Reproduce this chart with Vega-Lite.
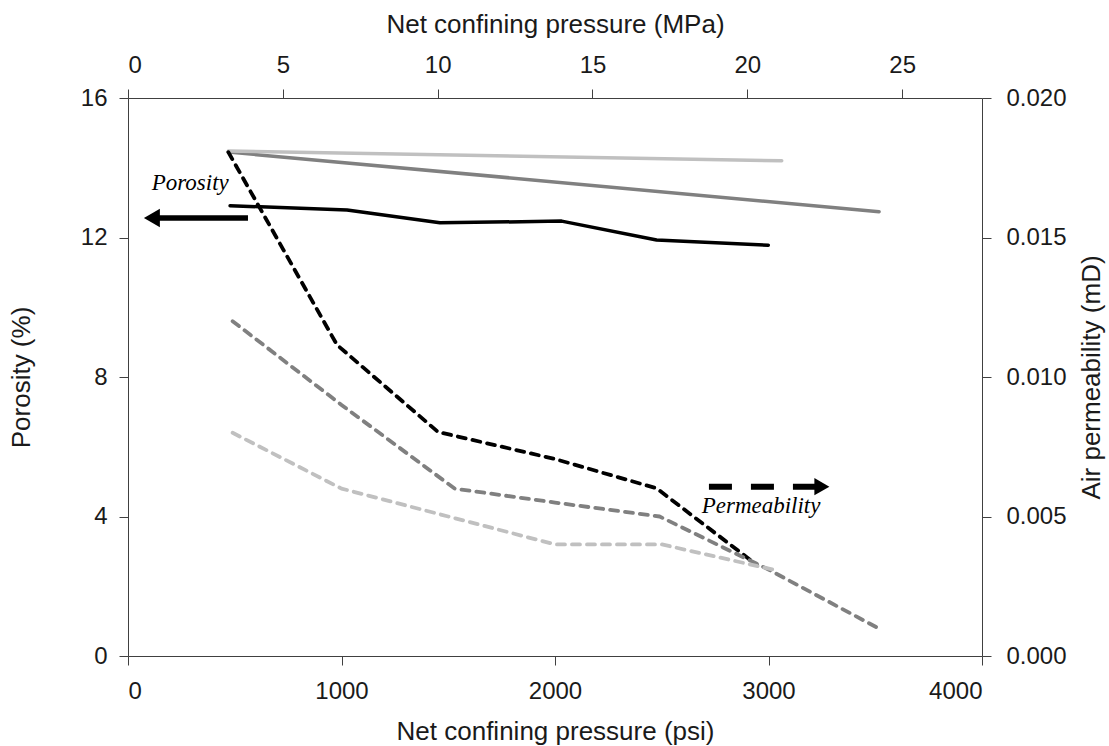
{
  "$schema": "https://vega.github.io/schema/vega-lite/v6.json",
  "width": 854,
  "height": 558,
  "autosize": {"type": "none"},
  "padding": {"left": 128, "top": 98, "right": 127, "bottom": 90},
  "background": "white",
  "config": {
    "view": {"stroke": null},
    "axis": {
      "grid": false,
      "domainColor": "#404040",
      "tickColor": "#404040",
      "tickSize": 9,
      "labelFont": "Liberation Sans",
      "labelFontSize": 24,
      "labelColor": "#1a1a1a",
      "titleFont": "Liberation Sans",
      "titleFontSize": 26,
      "titleFontWeight": "normal",
      "titleColor": "#1a1a1a"
    }
  },
  "datasets": {
    "porosity": [
      {"series": "A", "psi": 478, "value": 12.91},
      {"series": "A", "psi": 1026, "value": 12.79},
      {"series": "A", "psi": 1461, "value": 12.42},
      {"series": "A", "psi": 2031, "value": 12.47},
      {"series": "A", "psi": 2476, "value": 11.93},
      {"series": "A", "psi": 2999, "value": 11.78},
      {"series": "B", "psi": 470, "value": 14.45},
      {"series": "B", "psi": 3518, "value": 12.74},
      {"series": "C", "psi": 470, "value": 14.48},
      {"series": "C", "psi": 3062, "value": 14.2}
    ],
    "permeability": [
      {"series": "A", "psi": 470, "value": 0.01806},
      {"series": "A", "psi": 979, "value": 0.01115},
      {"series": "A", "psi": 1452, "value": 0.00803},
      {"series": "A", "psi": 2000, "value": 0.00706},
      {"series": "A", "psi": 2476, "value": 0.00601},
      {"series": "A", "psi": 2946, "value": 0.00326},
      {"series": "B", "psi": 490, "value": 0.012},
      {"series": "B", "psi": 1000, "value": 0.009},
      {"series": "B", "psi": 1530, "value": 0.006},
      {"series": "B", "psi": 2000, "value": 0.0055},
      {"series": "B", "psi": 2490, "value": 0.005},
      {"series": "B", "psi": 3000, "value": 0.0031},
      {"series": "B", "psi": 3513, "value": 0.001},
      {"series": "C", "psi": 490, "value": 0.008},
      {"series": "C", "psi": 1000, "value": 0.006},
      {"series": "C", "psi": 1500, "value": 0.005},
      {"series": "C", "psi": 2000, "value": 0.004},
      {"series": "C", "psi": 2500, "value": 0.004},
      {"series": "C", "psi": 3020, "value": 0.0031}
    ],
    "porArrow": [
      {"psi": 145, "value": 12.56},
      {"psi": 562, "value": 12.56}
    ],
    "porHead": [{"psi": 112, "value": 12.56}],
    "porText": [{"psi": 111, "value": 13.36, "label": "Porosity"}],
    "permArrow": [
      {"psi": 2721, "value": 0.00607},
      {"psi": 3218, "value": 0.00607}
    ],
    "permHead": [{"psi": 3250, "value": 0.00607}],
    "permText": [{"psi": 2687, "value": 0.00511, "label": "Permeability"}],
    "mpaAxis": [{"mpa": 0}, {"mpa": 27.579}]
  },
  "layer": [
    {
      "encoding": {
        "x": {
          "field": "psi", "type": "quantitative",
          "scale": {"domain": [0, 4000], "nice": false, "zero": false},
          "axis": {"orient": "bottom", "values": [0, 1000, 2000, 3000, 4000], "format": "d", "title": "Net confining pressure (psi)", "labelPadding": 14, "titlePadding": 15}
        },
        "y": {
          "field": "value", "type": "quantitative",
          "scale": {"domain": [0, 16], "nice": false, "zero": false},
          "axis": {"orient": "left", "values": [0, 4, 8, 12, 16], "title": "Porosity (%)", "labelPadding": 12, "titlePadding": 46}
        }
      },
      "layer": [
        {
          "data": {"name": "porosity"},
          "mark": {"type": "line", "strokeWidth": 3.5, "strokeCap": "round", "strokeJoin": "round"},
          "encoding": {
            "detail": {"field": "series"},
            "color": {"field": "series", "type": "nominal", "scale": {"domain": ["A", "B", "C"], "range": ["#000000", "#808080", "#c0c0c0"]}, "legend": null}
          }
        },
        {
          "data": {"name": "porArrow"},
          "mark": {"type": "line", "strokeWidth": 5.5, "color": "#000000"},
          "encoding": {}
        },
        {
          "data": {"name": "porHead"},
          "mark": {"type": "point", "shape": "triangle-left", "filled": true, "size": 340, "color": "#000000", "opacity": 1},
          "encoding": {}
        },
        {
          "data": {"name": "porText"},
          "mark": {"type": "text", "font": "Liberation Serif", "fontStyle": "italic", "fontSize": 23, "align": "left", "baseline": "alphabetic", "color": "#000000"},
          "encoding": {"text": {"field": "label"}}
        }
      ]
    },
    {
      "encoding": {
        "x": {
          "field": "psi", "type": "quantitative",
          "scale": {"domain": [0, 4000], "nice": false, "zero": false},
          "axis": null
        },
        "y": {
          "field": "value", "type": "quantitative",
          "scale": {"domain": [0, 0.02], "nice": false, "zero": false},
          "axis": {"orient": "right", "values": [0, 0.005, 0.01, 0.015, 0.02], "format": ".3f", "title": "Air permeability (mD)", "titleAngle": 270, "titleBaseline": "top", "labelPadding": 15, "titlePadding": 12}
        }
      },
      "layer": [
        {
          "data": {"name": "permeability"},
          "mark": {"type": "line", "strokeWidth": 3.8, "strokeDash": [8, 7], "strokeCap": "round", "strokeJoin": "round"},
          "encoding": {
            "detail": {"field": "series"},
            "color": {"field": "series", "type": "nominal", "scale": {"domain": ["A", "B", "C"], "range": ["#000000", "#808080", "#c0c0c0"]}, "legend": null}
          }
        },
        {
          "data": {"name": "permArrow"},
          "mark": {"type": "line", "strokeWidth": 6, "strokeDash": [23, 19], "color": "#000000"},
          "encoding": {}
        },
        {
          "data": {"name": "permHead"},
          "mark": {"type": "point", "shape": "triangle-right", "filled": true, "size": 300, "color": "#000000", "opacity": 1},
          "encoding": {}
        },
        {
          "data": {"name": "permText"},
          "mark": {"type": "text", "font": "Liberation Serif", "fontStyle": "italic", "fontSize": 23, "align": "left", "baseline": "alphabetic", "color": "#000000"},
          "encoding": {"text": {"field": "label"}}
        }
      ]
    },
    {
      "data": {"name": "mpaAxis"},
      "mark": {"type": "point", "opacity": 0},
      "encoding": {
        "x": {
          "field": "mpa", "type": "quantitative",
          "scale": {"domain": [0, 27.579], "nice": false, "zero": false},
          "axis": {"orient": "top", "values": [0, 5, 10, 15, 20, 25], "title": "Net confining pressure (MPa)", "labelPadding": 12, "titlePadding": 16}
        }
      }
    }
  ],
  "resolve": {"scale": {"x": "independent", "y": "independent", "color": "independent"}}
}
